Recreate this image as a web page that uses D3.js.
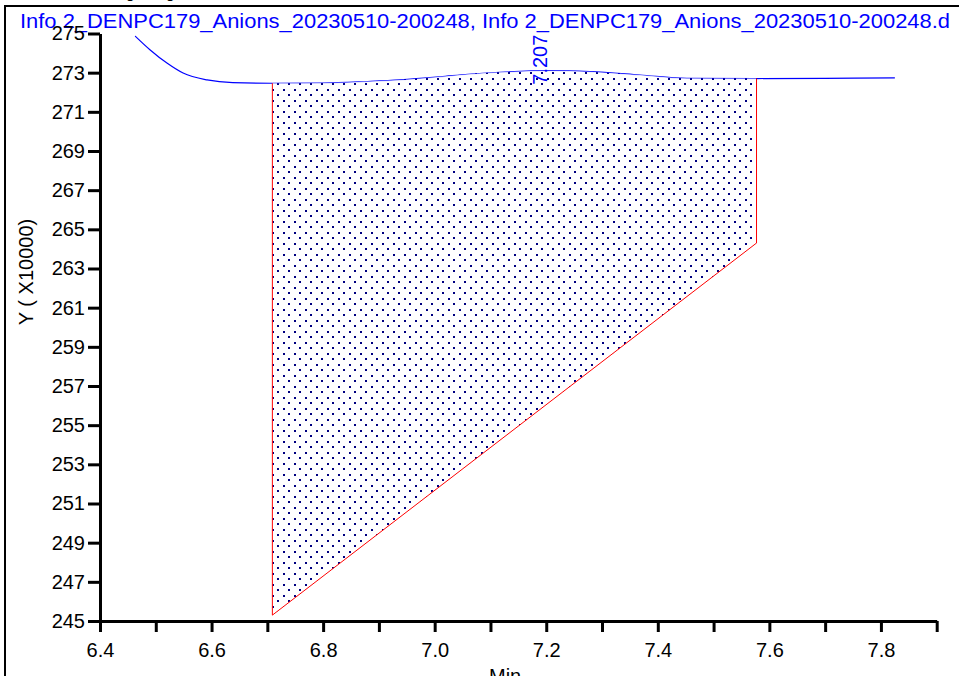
<!DOCTYPE html>
<html>
<head>
<meta charset="utf-8">
<script src="https://cdn.jsdelivr.net/npm/d3@7"></script>
<style>
  html, body { margin: 0; padding: 0; background: #fff; overflow: hidden; }
  svg { display: block; font-family: "Liberation Sans", Arial, sans-serif; }
</style>
</head>
<body>
<svg id="chart" width="959" height="676"></svg>
<script>
// ---- data ----
const titleText = "Info 2_DENPC179_Anions_20230510-200248, Info 2_DENPC179_Anions_20230510-200248.d";
const headerText = "Integrating";
const xLabel = "Min";
const yLabel = "Y ( X10000)";

const times = [6.463, 6.490, 6.520, 6.549, 6.592, 6.638, 6.709, 6.800, 6.880, 6.938, 7.010, 7.060, 7.117, 7.207, 7.278, 7.368, 7.452, 7.577, 7.700, 7.825];
const signal = [274.87, 274.16, 273.49, 272.98, 272.63, 272.49, 272.46, 272.47, 272.55, 272.63, 272.79, 272.92, 273.02, 273.10, 273.05, 272.88, 272.71, 272.70, 272.71, 272.73];

const peakTime = 7.207;
const peakLabel = "7.207";
const peakValue = 273.10;

const integStart = 6.709;
const integEnd = 7.577;
const baselineStart = 245.3;
const baselineEnd = 264.3;

const xTicks = [6.4, 6.5, 6.6, 6.7, 6.8, 6.9, 7.0, 7.1, 7.2, 7.3, 7.4, 7.5, 7.6, 7.7, 7.8, 7.9];
const xTickLabels = ["6.4", "", "6.6", "", "6.8", "", "7.0", "", "7.2", "", "7.4", "", "7.6", "", "7.8", ""];
const yTicks = [245, 247, 249, 251, 253, 255, 257, 259, 261, 263, 265, 267, 269, 271, 273, 275];

// ---- drawing ----
const svg = d3.select("#chart");
const x = d3.scaleLinear().domain([6.4, 7.9]).range([100, 936.7]);
const y = d3.scaleLinear().domain([245, 275]).range([621, 33.5]);

const pts = times.map((t, i) => ({t, v: signal[i]}));

// pattern
const defs = svg.append("defs");
const pat = defs.append("pattern").attr("id", "dots")
  .attr("patternUnits", "userSpaceOnUse").attr("width", 11).attr("height", 11);
pat.append("rect").attr("width", 11).attr("height", 11).attr("fill", "#fff").attr("fill-opacity", 0.8);
pat.append("rect").attr("x", 2).attr("y", 6).attr("width", 2).attr("height", 2).attr("fill", "#000080").attr("shape-rendering", "crispEdges");
pat.append("rect").attr("x", 8).attr("y", 1).attr("width", 2).attr("height", 2).attr("fill", "#000080").attr("shape-rendering", "crispEdges");

// outer frame
svg.append("rect").attr("x", 5).attr("y", 6).attr("width", 1000).attr("height", 800)
  .attr("fill", "none").attr("stroke", "#000").attr("stroke-width", 2);

// header (cut off)
svg.append("text").attr("x", 99).attr("y", -2).attr("font-size", 16).attr("fill", "#000").text(headerText);

// title
svg.append("text").attr("x", 20).attr("y", 28).attr("font-size", 20).attr("fill", "#0000ff")
  .attr("textLength", 930).attr("lengthAdjust", "spacingAndGlyphs").text(titleText);

// chromatogram line
const line = d3.line().x(d => x(d.t)).y(d => y(d.v)).curve(d3.curveMonotoneX);
svg.append("path").datum(pts).attr("d", line).attr("fill", "none")
  .attr("stroke", "#0000ff").attr("stroke-width", 1.2);

// integrated area
const inRange = pts.filter(d => d.t >= integStart - 1e-9 && d.t <= integEnd + 1e-9);
const base = t => baselineStart + (baselineEnd - baselineStart) * (t - integStart) / (integEnd - integStart);
const area = d3.area().x(d => x(d.t)).y0(d => y(base(d.t))).y1(d => y(d.v)).curve(d3.curveMonotoneX);
svg.append("path").datum(inRange).attr("d", area).attr("fill", "url(#dots)");

// red integration boundaries
const sStart = inRange[0].v, sEnd = inRange[inRange.length - 1].v;
svg.append("line").attr("x1", x(integStart)).attr("x2", x(integStart))
  .attr("y1", y(sStart)).attr("y2", y(baselineStart)).attr("stroke", "#ff0000").attr("stroke-width", 1);
svg.append("line").attr("x1", x(integEnd)).attr("x2", x(integEnd))
  .attr("y1", y(sEnd)).attr("y2", y(baselineEnd)).attr("stroke", "#ff0000").attr("stroke-width", 1);
svg.append("line").attr("x1", x(integStart)).attr("x2", x(integEnd))
  .attr("y1", y(baselineStart)).attr("y2", y(baselineEnd)).attr("stroke", "#ff0000").attr("stroke-width", 1);

// peak label
svg.append("text").attr("transform", `translate(${x(peakTime) - 3},${y(peakValue) + 14}) rotate(-90)`)
  .attr("font-size", 20).attr("fill", "#0000ff").text(peakLabel);

// axes
const xAxis = d3.axisBottom(x).tickValues(xTicks).tickSizeInner(11).tickSizeOuter(0)
  .tickFormat((d, i) => xTickLabels[i]);
const gx = svg.append("g").attr("transform", `translate(0,${y(245)})`).call(xAxis);
gx.select(".domain").attr("stroke-width", 3);
gx.selectAll(".tick line").attr("stroke-width", 3);
gx.selectAll(".tick text").attr("font-size", 20).attr("font-family", "Liberation Sans, Arial, sans-serif").attr("fill", "#000").attr("dy", "1.1em");

const yAxis = d3.axisLeft(y).tickValues(yTicks).tickSizeInner(12).tickSizeOuter(0).tickFormat(d3.format("d"));
const gy = svg.append("g").attr("transform", `translate(${x(6.4)},0)`).call(yAxis);
gy.select(".domain").attr("stroke-width", 3);
gy.selectAll(".tick line").attr("stroke-width", 3);
gy.selectAll(".tick text").attr("font-size", 20).attr("font-family", "Liberation Sans, Arial, sans-serif").attr("fill", "#000").attr("x", -15);

// axis labels
svg.append("text").attr("x", 489).attr("y", 683).attr("font-size", 20).attr("fill", "#000").text(xLabel);
svg.append("text").attr("transform", `translate(33,272) rotate(-90)`).attr("text-anchor", "middle")
  .attr("font-size", 20).attr("fill", "#000").text(yLabel);
</script>
</body>
</html>
